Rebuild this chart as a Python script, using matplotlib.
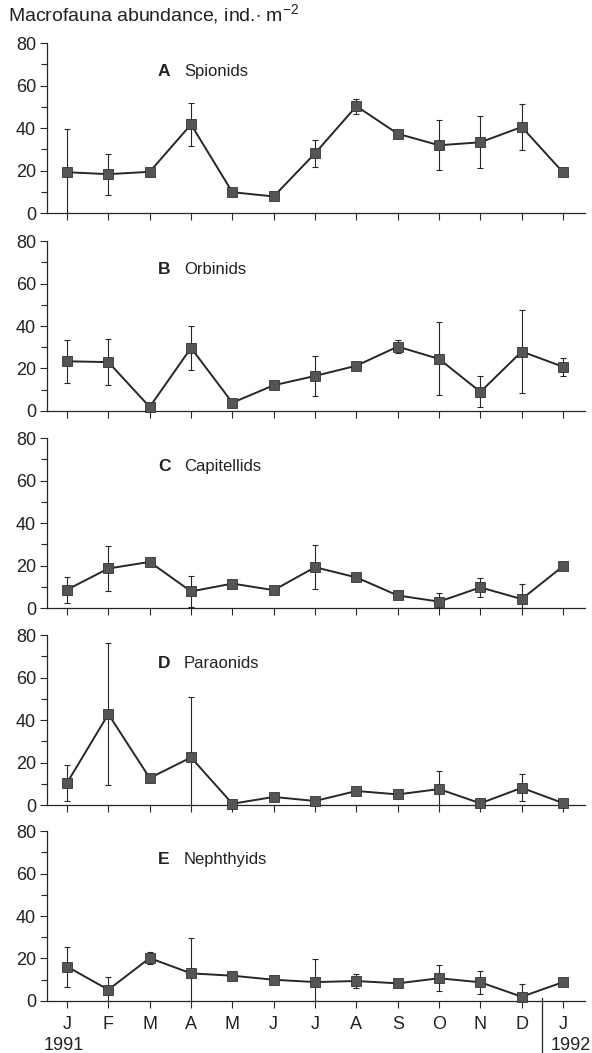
import numpy as np
import matplotlib
matplotlib.use('Agg')
import matplotlib.pyplot as plt
from matplotlib.ticker import MultipleLocator

plt.rcParams['font.family'] = ['Liberation Sans', 'DejaVu Sans']
plt.rcParams['mathtext.fontset'] = 'custom'
plt.rcParams['mathtext.rm'] = 'Liberation Sans'
plt.rcParams['mathtext.it'] = 'Liberation Sans'

months = ['J', 'F', 'M', 'A', 'M', 'J', 'J', 'A', 'S', 'O', 'N', 'D', 'J']

# mean abundance and error (0 = no bar drawn)
spionids = [19.2, 18.3, 19.4, 41.7, 9.8, 7.8, 28.1, 50.3, 37.3, 31.9, 33.3, 40.5, 19.1]
spionids_err = [20.5, 9.7, 0, 10.0, 0, 0, 6.3, 3.5, 0, 11.8, 12.2, 10.6, 0]

orbinids = [23.4, 23.0, 1.9, 29.7, 3.9, 12.1, 16.5, 21.3, 30.3, 24.5, 9.0, 28.0, 20.8]
orbinids_err = [10.0, 11.0, 0, 10.2, 0, 0, 9.6, 0, 3.1, 17.2, 7.3, 19.4, 4.1]

capitellids = [8.6, 18.6, 21.7, 7.8, 11.5, 8.4, 19.2, 14.4, 5.9, 3.0, 9.7, 4.2, 19.7]
capitellids_err = [6.2, 10.6, 0, 7.3, 0, 0, 10.3, 0, 0, 3.9, 4.3, 7.3, 0]

paraonids = [10.4, 42.8, 12.7, 22.4, 0.6, 3.8, 1.9, 6.6, 5.0, 7.5, 0.8, 8.1, 0.9]
paraonids_err = [8.6, 33.4, 0, 28.4, 0, 0, 0, 0, 0, 8.6, 0, 6.3, 0]

nephthyids = [16.2, 5.3, 20.2, 13.0, 11.9, 10.0, 8.9, 9.4, 8.3, 10.7, 8.8, 2.0, 8.9]
nephthyids_err = [9.4, 6.2, 3.0, 16.6, 0, 0, 11.0, 3.2, 0, 6.1, 5.4, 5.8, 0]

panels = [
    ('A', 'Spionids', spionids, spionids_err),
    ('B', 'Orbinids', orbinids, orbinids_err),
    ('C', 'Capitellids', capitellids, capitellids_err),
    ('D', 'Paraonids', paraonids, paraonids_err),
    ('E', 'Nephthyids', nephthyids, nephthyids_err),
]

fig = plt.figure(figsize=(5.92, 10.53), dpi=100)

x = np.arange(len(months))
bottoms = [0.7977, 0.6097, 0.4226, 0.2355, 0.0494]
dark = '#262626'

axes = []
for (letter, name, vals, errs), b in zip(panels, bottoms):
    ax = fig.add_axes([0.0794, b, 0.9088, 0.1614])
    vals = np.array(vals)
    errs = np.array(errs)
    lower = np.minimum(errs, vals)
    has = errs > 0
    ax.errorbar(x[has], vals[has], yerr=[lower[has], errs[has]], fmt='none',
                ecolor=dark, elinewidth=0.8, capsize=2, capthick=0.8, zorder=2)
    ax.plot(x, vals, color=dark, lw=1.4, marker='s', ms=6.5,
            mfc='#555555', mec='#333333', mew=0.6, clip_on=False, zorder=3)

    ax.set_xlim(-0.484, 12.53)
    ax.set_ylim(0, 80)
    ax.yaxis.set_major_locator(MultipleLocator(20))
    ax.yaxis.set_minor_locator(MultipleLocator(10))
    ax.set_xticks(x)
    ax.set_xticklabels([])
    for s in ['top', 'right']:
        ax.spines[s].set_visible(False)
    for s in ['left', 'bottom']:
        ax.spines[s].set_linewidth(0.9)
        ax.spines[s].set_color(dark)
    ax.tick_params(axis='both', which='both', direction='out', color=dark,
                   width=0.8, labelsize=13, labelcolor='#222222')
    ax.tick_params(axis='y', which='major', length=5, pad=3)
    ax.tick_params(axis='y', which='minor', length=4)
    ax.tick_params(axis='x', length=5)

    ax.text(2.2, 66.5, letter, fontsize=12.5, fontweight='bold', va='center',
            ha='left', color='#222222')
    ax.text(2.83, 66.5, name, fontsize=12, va='center', ha='left',
            color='#222222')
    axes.append(ax)

ax = axes[-1]
ax.set_xticklabels(months)
ax.tick_params(axis='x', pad=6)
ax.text(-0.07, -0.29, '1991', transform=ax.get_xaxis_transform(),
        ha='center', va='baseline', fontsize=13, color='#222222')
ax.text(11.69, -0.29, '1992', transform=ax.get_xaxis_transform(),
        ha='left', va='baseline', fontsize=13, color='#222222')
ax.plot([11.5, 11.5], [0.02, -0.32], transform=ax.get_xaxis_transform(),
        color=dark, lw=0.9, clip_on=False)

fig.text(8 / 592, 1 - 14 / 1053, r'Macrofauna abundance, ind.$\cdot$ m$^{-2}$',
         fontsize=14, va='center', ha='left', color='#222222')

fig.savefig('out.png', dpi=100)
